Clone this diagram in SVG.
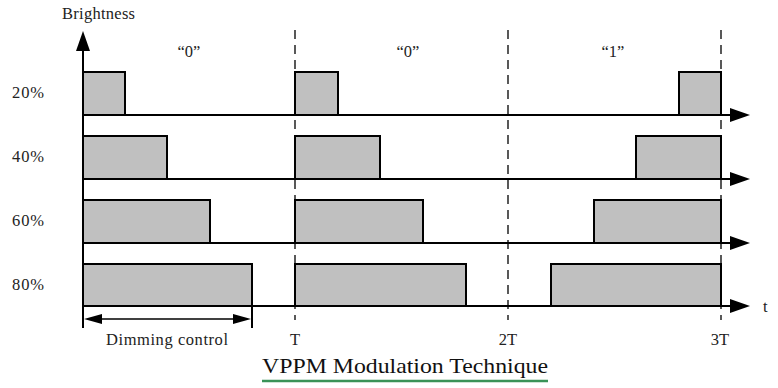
<svg xmlns="http://www.w3.org/2000/svg" width="778" height="388" viewBox="0 0 778 388">
<style>
.ax{stroke:#000;stroke-width:2;fill:none}
.p{fill:#c0c0c0;stroke:#000;stroke-width:2}
.d{stroke:#000;stroke-width:1.3;stroke-dasharray:9,6;fill:none}
.s{font-family:"Liberation Serif",serif;font-size:16.5px;fill:#222}
.h{fill:#000}
</style>
<rect width="778" height="388" fill="#fff"/>
<g id="dashes">
<line class="d" x1="295" y1="30" x2="295" y2="320"/>
<line class="d" x1="508" y1="30" x2="508" y2="320"/>
<line class="d" x1="721" y1="30" x2="721" y2="320"/>
</g>
<g id="row20">
<rect class="p" x="83" y="72" width="42" height="43"/>
<rect class="p" x="295" y="72" width="43" height="43"/>
<rect class="p" x="679" y="72" width="42" height="43"/>
<text class="s" x="12" y="98" textLength="32">20%</text>
</g>
<g id="row40">
<rect class="p" x="83" y="136" width="84" height="43"/>
<rect class="p" x="295" y="136" width="85" height="43"/>
<rect class="p" x="636" y="136" width="85" height="43"/>
<text class="s" x="12" y="162" textLength="32">40%</text>
</g>
<g id="row60">
<rect class="p" x="83" y="200" width="127" height="43"/>
<rect class="p" x="295" y="200" width="128" height="43"/>
<rect class="p" x="594" y="200" width="127" height="43"/>
<text class="s" x="12" y="226" textLength="32">60%</text>
</g>
<g id="row80">
<rect class="p" x="83" y="264" width="169" height="42"/>
<rect class="p" x="295" y="264" width="171" height="42"/>
<rect class="p" x="551" y="264" width="170" height="42"/>
<text class="s" x="12" y="290" textLength="32">80%</text>
</g>
<g id="axes">
<line class="ax" x1="83" y1="45" x2="83" y2="328"/>
<polygon class="h" points="83,31 76,51 90,51"/>
<line class="ax" x1="83" y1="115" x2="735" y2="115"/>
<polygon class="h" points="730,108 750,115 730,122"/>
<line class="ax" x1="83" y1="179" x2="735" y2="179"/>
<polygon class="h" points="730,172 750,179 730,186"/>
<line class="ax" x1="83" y1="243" x2="735" y2="243"/>
<polygon class="h" points="730,236 750,243 730,250"/>
<line class="ax" x1="83" y1="306" x2="735" y2="306"/>
<polygon class="h" points="730,299 750,306 730,313"/>
</g>
<g id="dimming">
<line class="ax" x1="252" y1="306" x2="252" y2="328"/>
<line x1="95" y1="319" x2="240" y2="319" stroke="#000" stroke-width="1.5"/>
<polygon class="h" points="84,319 102,314 102,324"/>
<polygon class="h" points="251,319 233,314 233,324"/>
<text class="s" x="106" y="345" textLength="122">Dimming control</text>
</g>
<g id="labels">
<text class="s" x="62" y="19" textLength="73">Brightness</text>
<text class="s" x="189" y="57" text-anchor="middle">“0”</text>
<text class="s" x="408" y="57" text-anchor="middle">“0”</text>
<text class="s" x="613" y="57" text-anchor="middle">“1”</text>
<text class="s" x="295" y="345" text-anchor="middle">T</text>
<text class="s" x="508" y="345" text-anchor="middle">2T</text>
<text class="s" x="720" y="345" text-anchor="middle">3T</text>
<text class="s" x="763" y="312">t</text>
</g>
<g id="title">
<text x="262" y="373" font-family="'Liberation Serif',serif" font-size="21.5" fill="#111" textLength="286" lengthAdjust="spacingAndGlyphs">VPPM Modulation Technique</text>
<line x1="262" y1="381" x2="548" y2="381" stroke="#3a9358" stroke-width="2.5"/>
</g>
</svg>
